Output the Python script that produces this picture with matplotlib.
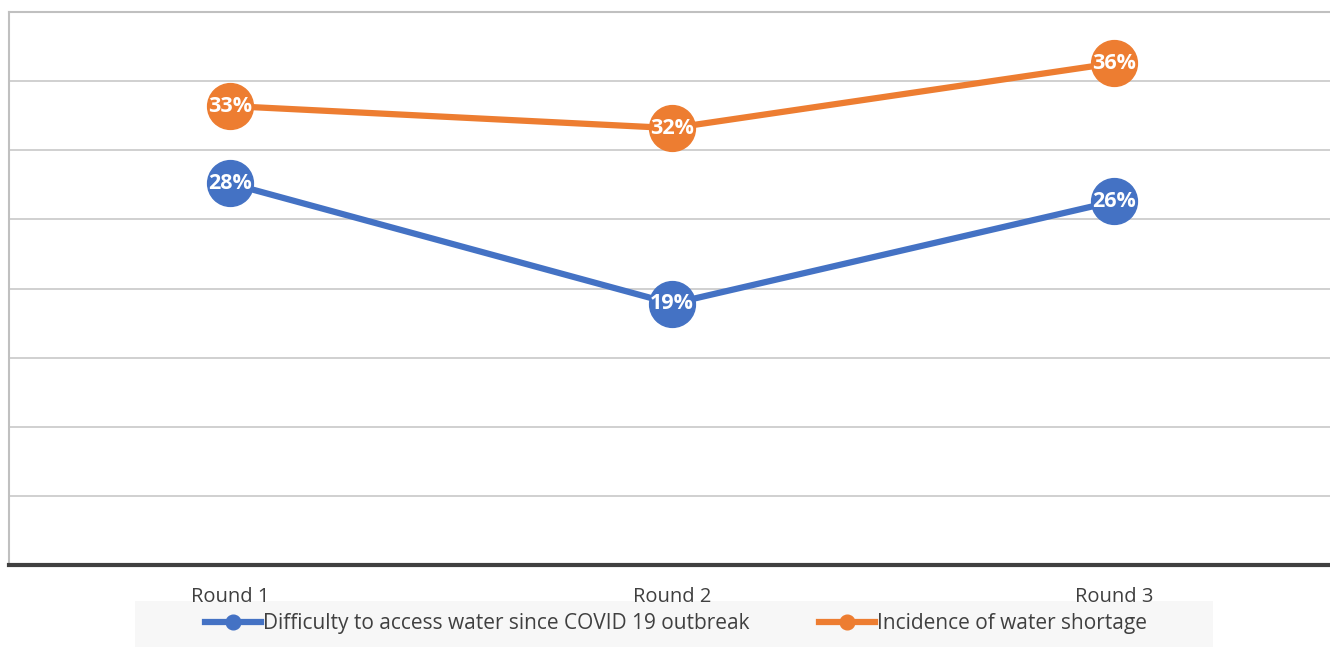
import matplotlib.pyplot as plt
from matplotlib.patches import Rectangle

rounds = ["Round 1", "Round 2", "Round 3"]
difficulty = [27.6, 18.9, 26.3]
shortage = [33.2, 31.6, 36.3]
difficulty_labels = ["28%", "19%", "26%"]
shortage_labels = ["33%", "32%", "36%"]

plt.rcParams['font.family'] = ['Open Sans', 'DejaVu Sans']

fig = plt.figure(figsize=(13.3, 6.55), dpi=100)
ax = fig.add_axes([9 / 1330, 90 / 655, 1326 / 1330, 553 / 655])
ax.set_zorder(1)

blue = "#4472c4"
orange = "#ed7d31"
x = list(range(len(rounds)))

ax.plot(x, difficulty, color=blue, lw=4.5, marker='o', ms=33, zorder=3,
        label="Difficulty to access water since COVID 19 outbreak")
ax.plot(x, shortage, color=orange, lw=4.5, marker='o', ms=33, zorder=3,
        label="Incidence of water shortage")

for xi, v, t in zip(x, difficulty, difficulty_labels):
    ax.text(xi, v, t, ha='center', va='center', color='white',
            fontsize=15.5, fontweight='bold', zorder=4)
for xi, v, t in zip(x, shortage, shortage_labels):
    ax.text(xi, v, t, ha='center', va='center', color='white',
            fontsize=15.5, fontweight='bold', zorder=4)

ax.set_xlim(-0.5, 2.5)
ax.set_ylim(0, 40)
ax.set_yticks(range(0, 41, 5))
ax.set_yticklabels([])
ax.tick_params(axis='y', length=0)
ax.grid(axis='y', color='#c8c8c8', lw=1.2)
ax.set_axisbelow(True)

ax.set_xticks(x)
ax.set_xticklabels(rounds, fontsize=14.5, color='#404040')
ax.tick_params(axis='x', length=0, pad=16)

ax.spines['right'].set_visible(False)
ax.spines['left'].set_color('#c0c0c0')
ax.spines['left'].set_linewidth(1.5)
ax.spines['top'].set_color('#c0c0c0')
ax.spines['top'].set_linewidth(1.5)
ax.spines['bottom'].set_color('#404040')
ax.spines['bottom'].set_linewidth(3)

# legend background strip
fig.patches.append(Rectangle((135 / 1330, 1 - 647 / 655), 1078 / 1330, 46 / 655,
                             transform=fig.transFigure, facecolor='#f7f7f7',
                             edgecolor='none', zorder=0))

leg = fig.legend(loc='center', bbox_to_anchor=(676 / 1330, 1 - 624 / 655), ncol=2,
                 frameon=False, fontsize=15, markerscale=0.32, handlelength=2.7,
                 handletextpad=0.1, columnspacing=3.3)
leg.set_zorder(5)
for t in leg.get_texts():
    t.set_color('#404040')

fig.savefig("out.png", dpi=100)
